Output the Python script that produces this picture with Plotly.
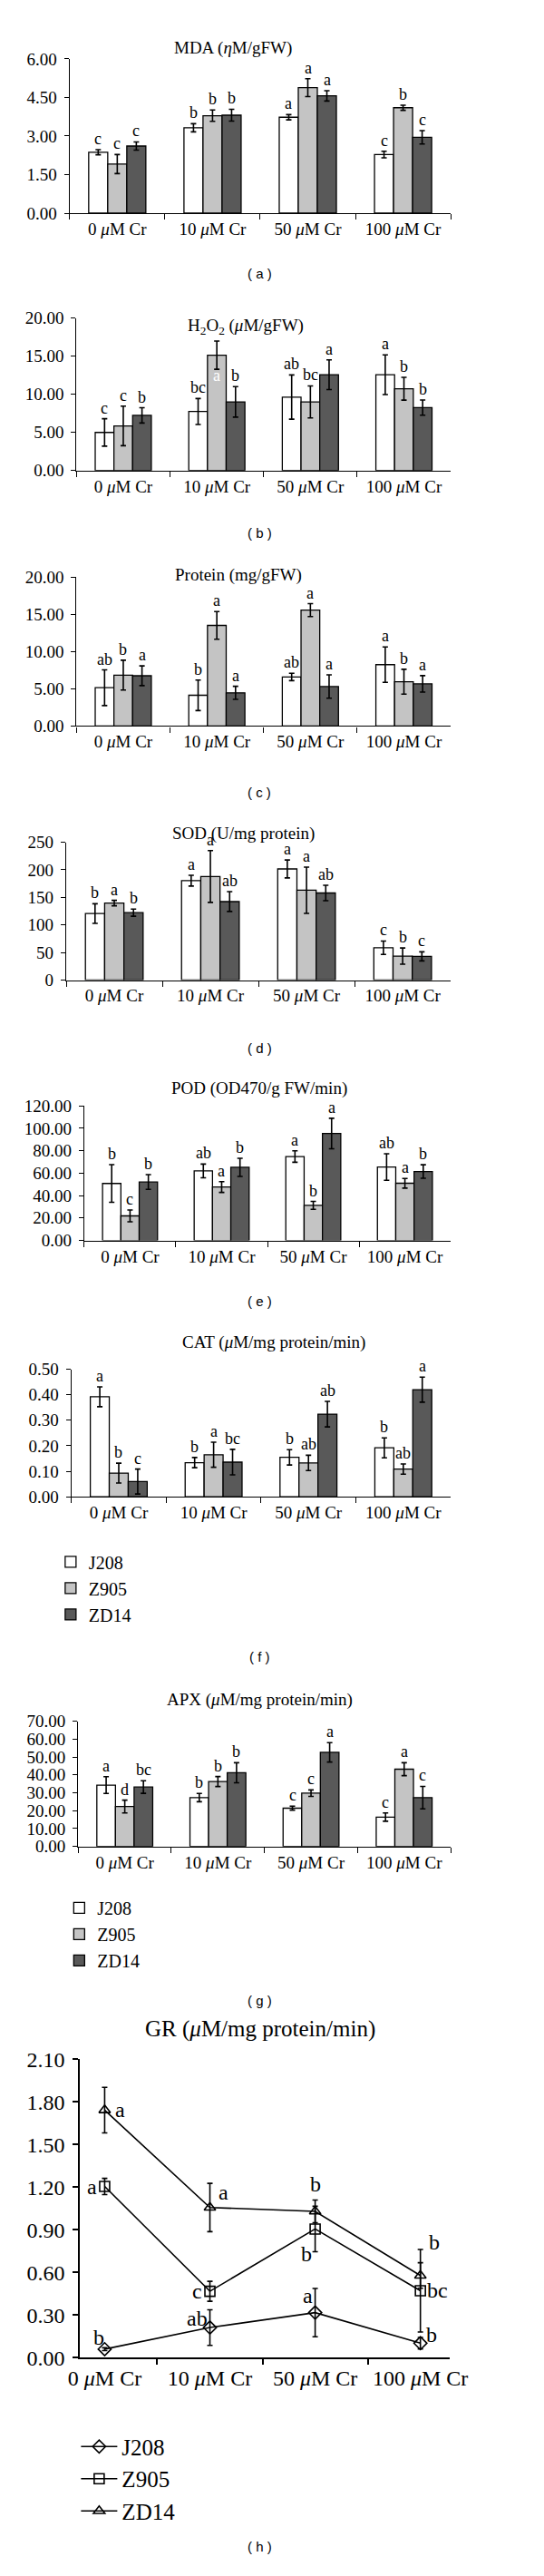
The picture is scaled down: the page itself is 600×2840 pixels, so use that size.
import plotly.graph_objects as go

W, H = 600, 2840
SERIF = "Liberation Serif"
SANS = "Liberation Sans"

cats = ["0 <i>μ</i>M Cr", "10 <i>μ</i>M Cr", "50 <i>μ</i>M Cr", "100 <i>μ</i>M Cr"]
cultivars = ["J208", "Z905", "ZD14"]

# ---- data (rows: J208, Z905, ZD14; columns: 0, 10, 50, 100 uM Cr) ----
mda = [[2.37, 3.32, 3.73, 2.28], [1.91, 3.79, 4.88, 4.10], [2.61, 3.81, 4.56, 2.95]]
mda_err = [[0.10, 0.16, 0.10, 0.13], [0.37, 0.22, 0.35, 0.10], [0.16, 0.23, 0.20, 0.26]]
mda_let = [["c", "b", "a", "c"], ["c", "b", "a", "b"], ["c", "b", "a", "c"]]

h2o2 = [[4.99, 7.74, 9.63, 12.57], [5.85, 15.13, 9.00, 10.73], [7.23, 9.00, 12.57, 8.25]]
h2o2_err = [[1.8, 1.7, 2.9, 2.6], [2.6, 1.85, 2.1, 1.5], [1.0, 2.0, 1.95, 1.0]]
h2o2_let = [["c", "bc", "ab", "a"], ["c", "a", "bc", "b"], ["b", "b", "a", "b"]]

protein = [[5.15, 4.14, 6.60, 8.25], [6.84, 13.52, 15.57, 5.96], [6.76, 4.47, 5.31, 5.67]]
protein_err = [[2.4, 2.05, 0.5, 2.37], [2.0, 1.85, 0.87, 1.67], [1.33, 0.87, 1.57, 1.1]]
protein_let = [["ab", "b", "ab", "a"], ["b", "a", "a", "b"], ["a", "a", "a", "a"]]

sod = [[120.7, 180.4, 201.6, 58.7], [139.7, 188.0, 163.0, 43.5], [122.3, 142.4, 158.0, 43.0]]
sod_err = [[17.7, 9.8, 16.3, 12.2], [5.0, 47.0, 42.0, 14.7], [6.5, 18.0, 14.0, 8.2]]
sod_let = [["b", "a", "a", "c"], ["a", "a", "a", "b"], ["b", "ab", "ab", "c"]]

pod = [[50.8, 62.0, 74.8, 65.5], [21.9, 47.6, 31.3, 51.0], [52.1, 65.2, 95.4, 61.5]]
pod_err = [[16.8, 6.1, 5.1, 11.8], [5.3, 4.8, 3.5, 4.3], [6.6, 8.1, 13.6, 6.0]]
pod_let = [["b", "ab", "a", "ab"], ["c", "a", "b", "a"], ["b", "b", "a", "b"]]

cat = [[0.392, 0.134, 0.155, 0.192], [0.093, 0.165, 0.133, 0.109], [0.060, 0.136, 0.324, 0.420]]
cat_err = [[0.039, 0.020, 0.030, 0.039], [0.039, 0.049, 0.030, 0.020], [0.049, 0.050, 0.050, 0.049]]
cat_let = [["a", "b", "b", "b"], ["b", "a", "ab", "ab"], ["c", "bc", "ab", "a"]]

apx = [[34.3, 27.3, 21.4, 16.4], [22.3, 36.3, 29.8, 43.2], [33.2, 41.2, 52.6, 27.3]]
apx_err = [[4.7, 2.3, 1.1, 2.3], [3.6, 2.8, 1.8, 3.6], [3.5, 5.6, 5.4, 6.3]]
apx_let = [["a", "b", "c", "c"], ["d", "b", "c", "a"], ["bc", "b", "a", "c"]]

gr = [[0.061, 0.213, 0.318, 0.103], [1.205, 0.468, 0.906, 0.472], [1.742, 1.057, 1.030, 0.579]]
gr_err = [[0.010, 0.125, 0.170, 0.040], [0.057, 0.070, 0.160, 0.290], [0.160, 0.170, 0.080, 0.090]]
gr_let = [["b", "ab", "a", "b"], ["a", "c", "b", "bc"], ["a", "a", "b", "b"]]
# label offsets (px) for GR letters relative to each point
gr_let_dx = [[-6, -14, -8, 12], [-14, -14, -10, 19], [17, 15, 0, 15]]
gr_let_dy = [[13, 10, 19, 9], [0, 0, -28, 0], [0, 17, 30, 37]]

bar_colors = ["#ffffff", "#c4c4c4", "#595959"]

# ---- layout of panels (pixel geometry) ----
panels = [
    dict(v=mda, e=mda_err, l=mda_let, title="MDA (<i>η</i>M/gFW)", ymax=6, dtick=1.5,
         top=44.3, bot=216, left=60, tx=250, ty=32, tag="( a )", tagy=283),
    dict(v=h2o2, e=h2o2_err, l=h2o2_let, title="H<sub>2</sub>O<sub>2</sub> (<i>μ</i>M/gFW)", ymax=20, dtick=5,
         top=332.7, bot=502.3, left=68, tx=265, ty=342, tag="( b )", tagy=572),
    dict(v=protein, e=protein_err, l=protein_let, title="Protein (mg/gFW)", ymax=20, dtick=5,
         top=621, bot=786.7, left=68, tx=257, ty=619, tag="( c )", tagy=860),
    dict(v=sod, e=sod_err, l=sod_let, title="SOD (U/mg protein)", ymax=250, dtick=50,
         top=916, bot=1069.3, left=56, tx=263, ty=906, tag="( d )", tagy=1145, fmt="d"),
    dict(v=pod, e=pod_err, l=pod_let, title="POD (OD470/g FW/min)", ymax=120, dtick=20,
         top=1209.3, bot=1359, left=77, tx=281, ty=1190, tag="( e )", tagy=1427),
    dict(v=cat, e=cat_err, l=cat_let, title="CAT (<i>μ</i>M/mg protein/min)", ymax=0.5, dtick=0.1,
         top=1502.3, bot=1644.3, left=62, tx=298, ty=1472, tag="( f )", tagy=1822, legend="legend"),
    dict(v=apx, e=apx_err, l=apx_let, title="APX (<i>μ</i>M/mg protein/min)", ymax=70, dtick=10,
         top=1894, bot=2033.3, left=70, tx=281, ty=1870, tag="( g )", tagy=2205, legend="legend2"),
]
RIGHT = 504

fig = go.Figure()
annotations = []
layout = {}

def dom_y(top, bot):
    return [1 - bot / H, 1 - top / H]

offsets = [-0.2, 0.0, 0.2]

for pi, p in enumerate(panels):
    n = pi + 1
    xa = "x" if n == 1 else f"x{n}"
    ya = "y" if n == 1 else f"y{n}"
    leg = p.get("legend")
    for k in range(3):
        fig.add_trace(go.Bar(
            x=cats, y=p["v"][k], name=cultivars[k],
            marker=dict(color=bar_colors[k], line=dict(color="black", width=1.3)),
            error_y=dict(type="data", array=p["e"][k], color="black", thickness=1.6, width=3),
            xaxis=xa, yaxis=ya,
            showlegend=leg is not None, legend=leg if leg else "legend",
        ))
        for i in range(4):
            txt = p["l"][k][i]
            a = dict(x=i + offsets[k], y=p["v"][k][i] + p["e"][k][i], xref=xa, yref=ya,
                     text=txt, showarrow=False, yanchor="bottom", yshift=0,
                     font=dict(family=SERIF, size=18, color="black"))
            if pi == 1 and k == 1 and i == 1:
                a.update(y=p["v"][k][i], yanchor="middle", yshift=-22, font=dict(family=SERIF, size=18, color="white"))
            annotations.append(a)
    axx = "xaxis" if n == 1 else f"xaxis{n}"
    axy = "yaxis" if n == 1 else f"yaxis{n}"
    layout[axx] = dict(domain=[p["left"] / W, RIGHT / W], anchor=ya, type="category",
                       showline=True, linecolor="black", linewidth=1.3, ticks="outside",
                       tickson="boundaries", ticklen=6, tickwidth=1.3, tickcolor="black",
                       showgrid=False, zeroline=False,
                       tickfont=dict(family=SERIF, size=19, color="black"))
    layout[axy] = dict(domain=dom_y(p["top"], p["bot"]), anchor=xa, range=[0, p["ymax"]],
                       dtick=p["dtick"], tick0=0, tickformat=p.get("fmt", ".2f"),
                       showline=True, linecolor="black", linewidth=1.3, ticks="outside",
                       ticklen=5, tickwidth=1.3, tickcolor="black", showgrid=False, zeroline=False,
                       ticklabelstandoff=4,
                       tickfont=dict(family=SERIF, size=19, color="black"))
    annotations.append(dict(x=p["tx"] / W, y=1 - p["ty"] / H, xref="paper", yref="paper",
                            text=p["title"], showarrow=False, xanchor="center", yanchor="middle",
                            font=dict(family=SERIF, size=19, color="black")))
    annotations.append(dict(x=281 / W, y=1 - p["tagy"] / H, xref="paper", yref="paper",
                            text=p["tag"], showarrow=False, xanchor="center", yanchor="middle",
                            font=dict(family=SANS, size=15, color="black")))

# ---- GR line panel ----
symbols = ["diamond-open", "square-open", "triangle-up-open"]
for k in range(3):
    fig.add_trace(go.Scatter(
        x=cats, y=gr[k], name=cultivars[k], mode="lines+markers",
        line=dict(color="black", width=1.6),
        marker=dict(symbol=symbols[k], size=11, color="black", line=dict(width=1.6)),
        error_y=dict(type="data", array=gr_err[k], color="black", thickness=1.6, width=3),
        xaxis="x8", yaxis="y8", legend="legend3", legendgroup=cultivars[k],
    ))
    for i in range(4):
        annotations.append(dict(x=i, y=gr[k][i], xref="x8", yref="y8", text=gr_let[k][i],
                                showarrow=False, xshift=gr_let_dx[k][i], yshift=gr_let_dy[k][i],
                                font=dict(family=SERIF, size=24, color="black")))

layout["xaxis8"] = dict(domain=[72 / W, 503 / W], anchor="y8", type="category",
                        showline=True, linecolor="black", linewidth=1.5, ticks="outside",
                        tickson="boundaries", ticklen=6, tickwidth=1.5, tickcolor="black",
                        showgrid=False, zeroline=False,
                        tickfont=dict(family=SERIF, size=24, color="black"))
layout["yaxis8"] = dict(domain=dom_y(2270, 2602.3), anchor="x8", range=[0, 2.1], dtick=0.3,
                        tick0=0, tickformat=".2f", showline=True, linecolor="black", linewidth=1.5,
                        ticks="outside", ticklen=6, tickwidth=1.5, tickcolor="black",
                        showgrid=False, zeroline=False, ticklabelstandoff=4,
                        tickfont=dict(family=SERIF, size=24, color="black"))
annotations.append(dict(x=282 / W, y=1 - 2253 / H, xref="paper", yref="paper",
                        text="GR (<i>μ</i>M/mg protein/min)", showarrow=False,
                        font=dict(family=SERIF, size=25, color="black")))
annotations.append(dict(x=281 / W, y=1 - 2823 / H, xref="paper", yref="paper", text="( h )",
                        showarrow=False, font=dict(family=SANS, size=15, color="black")))

leg_common = dict(xanchor="left", yanchor="top", bgcolor="rgba(0,0,0,0)", borderwidth=0,
                  traceorder="normal")
fig.update_layout(
    width=W, height=H, margin=dict(l=0, r=0, t=0, b=0),
    paper_bgcolor="white", plot_bgcolor="white",
    barmode="group", bargap=0.4, bargroupgap=0,
    font=dict(family=SERIF, color="black"),
    annotations=annotations,
    legend=dict(x=40 / W, y=1 - 1697 / H, font=dict(family=SERIF, size=20, color="black"), **leg_common),
    legend2=dict(x=50 / W, y=1 - 2082 / H, font=dict(family=SERIF, size=20, color="black"), **leg_common),
    legend3=dict(x=68 / W, y=1 - 2678 / H, font=dict(family=SERIF, size=25, color="black"),
                 tracegroupgap=7, itemwidth=40, **leg_common),
    **layout,
)

fig.write_html("out.html", config={"displayModeBar": False})
